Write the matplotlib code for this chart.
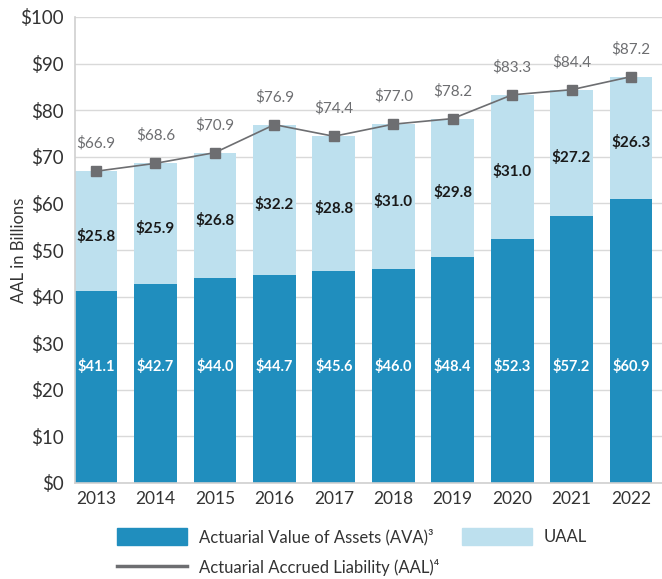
import matplotlib.pyplot as plt
from matplotlib.patches import Patch
from matplotlib.lines import Line2D
import numpy as np

plt.rcParams['font.family'] = ['Lato', 'DejaVu Sans']

# Data (billions)
years = ['2013', '2014', '2015', '2016', '2017', '2018', '2019', '2020', '2021', '2022']
ava = [41.1, 42.7, 44.0, 44.7, 45.6, 46.0, 48.4, 52.3, 57.2, 60.9]
uaal = [25.8, 25.9, 26.8, 32.2, 28.8, 31.0, 29.8, 31.0, 27.2, 26.3]
aal = [66.9, 68.6, 70.9, 76.9, 74.4, 77.0, 78.2, 83.3, 84.4, 87.2]
yticks = [0, 10, 20, 30, 40, 50, 60, 70, 80, 90, 100]

dark = '#208ebe'
light = '#bde0ee'
gray = '#6d6e71'

fig = plt.figure(figsize=(6.62, 5.79), dpi=100)
ax = fig.add_axes([75 / 662, 1 - 483 / 579, 1 - 75 / 662, (483 - 17) / 579])

x = np.arange(len(years))
w = 0.72
ax.bar(x, ava, w, color=dark, zorder=2)
ax.bar(x, uaal, w, bottom=ava, color=light, zorder=2)
ax.plot(x, aal, color=gray, lw=1.2, marker='s', ms=6.5, zorder=3)

for i in range(len(years)):
    ax.text(x[i], 25, f'${ava[i]:.1f}', ha='center', va='center',
            color='white', fontsize=10.5, fontweight='bold', zorder=4)
    ax.text(x[i], ava[i] + uaal[i] / 2 - 1, f'${uaal[i]:.1f}', ha='center', va='center',
            color='#1a1a1a', fontsize=11, fontweight='bold', zorder=4)
    ax.annotate(f'${aal[i]:.1f}', (x[i], aal[i]), xytext=(0, 20), textcoords='offset points',
                ha='center', va='center', color=gray, fontsize=11, zorder=4)

ax.set_xlim(-0.354, 9.52)
ax.set_ylim(0, 100)
ax.set_yticks(yticks)
ax.set_yticklabels([f'${v}' for v in yticks])
ax.set_xticks(x)
ax.set_xticklabels(years)
ax.tick_params(axis='both', length=0, colors='#333333')
ax.tick_params(axis='y', pad=8, labelsize=13.5)
ax.tick_params(axis='x', pad=6, labelsize=12.5)
ax.grid(axis='y', color='#d9d9d9', lw=1, zorder=0)
for s in ['top', 'right']:
    ax.spines[s].set_visible(False)
for s in ['left', 'bottom']:
    ax.spines[s].set_color('#d0d0d0')
    ax.spines[s].set_linewidth(1.2)
ax.set_ylabel('AAL in Billions', fontsize=12, color='#333333')
ax.yaxis.set_label_coords(-0.082, 0.5)

handles = [
    Patch(color=dark, label='Actuarial Value of Assets (AVA)³'),
    Line2D([], [], color=gray, lw=2.5, label='Actuarial Accrued Liability (AAL)⁴'),
    Patch(color=light, label='UAAL'),
]
fig.legend(handles=handles, ncol=2, loc='upper left', bbox_to_anchor=(117 / 662, 1 - 528 / 579),
           frameon=False, fontsize=12, labelcolor='#333333', handlelength=4.2, handleheight=1.2,
           handletextpad=0.7, columnspacing=1.4, labelspacing=0.8, borderaxespad=0, borderpad=0)

fig.savefig('out.png', dpi=100)
